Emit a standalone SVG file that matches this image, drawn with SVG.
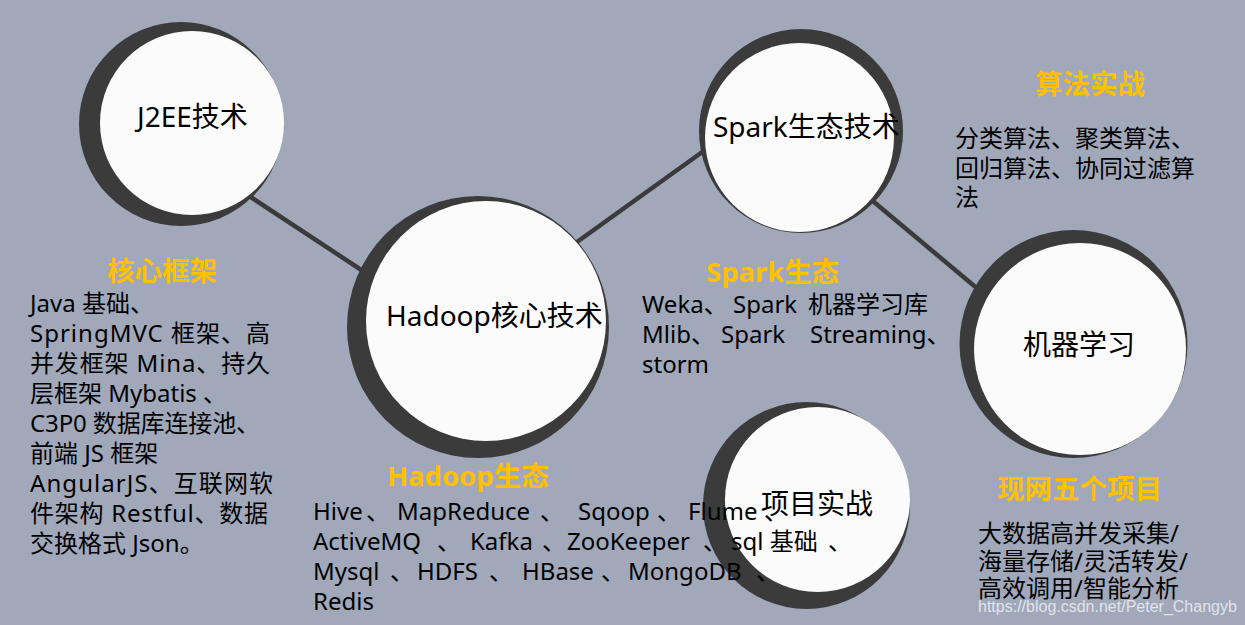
<svg xmlns="http://www.w3.org/2000/svg" width="1245" height="625" viewBox="0 0 1245 625">
<style>
.bg{fill:#a1a8ba}
.shadow{fill:#3b3b3b}
.face{fill:#fbfbfb}
.conn{stroke:#3b3b3b;stroke-width:4.5;fill:none}
text{font-family:"Noto Sans","Noto Sans CJK SC",sans-serif;fill:#000}
.title{font-size:28px}
.head{font-size:27.5px;font-weight:bold;fill:#ffc000}
.body{font-size:24px}
.wm{font-family:"Liberation Sans",Arial,sans-serif;font-size:16px;fill:#eef0f5;fill-opacity:0.85}
</style>
<rect class="bg" x="0" y="0" width="1245" height="625"/>
<g id="connectors">
<line class="conn" x1="240" y1="190" x2="372" y2="277"/>
<line class="conn" x1="570" y1="247" x2="712" y2="145"/>
<line class="conn" x1="868" y1="197" x2="985" y2="295"/>
</g>
<g id="j2ee">
<circle class="shadow" cx="181" cy="124" r="102"/>
<circle class="face" cx="192" cy="123" r="92"/>
<text class="title" x="137" y="127">J2EE技术</text>
</g>
<g id="hadoop">
<circle class="shadow" cx="478" cy="327" r="131"/>
<circle class="face" cx="486" cy="321" r="120"/>
<text class="title" x="386" y="326">Hadoop核心技术</text>
</g>
<g id="spark">
<circle class="shadow" cx="801" cy="131" r="102"/>
<circle class="face" cx="799.5" cy="137.5" r="94.5"/>
<text class="title" x="713" y="137">Spark生态技术</text>
</g>
<g id="ml">
<circle class="shadow" cx="1073.5" cy="344" r="114"/>
<circle class="face" cx="1080" cy="349" r="106"/>
<text class="title" x="1023" y="355">机器学习</text>
</g>
<g id="project">
<circle class="shadow" cx="806.5" cy="505.5" r="103.5"/>
<circle class="face" cx="817.5" cy="499.5" r="92.5"/>
<text class="title" x="761" y="514">项目实战</text>
</g>
<g id="core-framework">
<text class="head" x="107" y="281">核心框架</text>
<text class="body">
<tspan x="30" y="312">Java 基础、</tspan>
<tspan x="30" y="342" textLength="240" lengthAdjust="spacing">SpringMVC 框架、高</tspan>
<tspan x="30" y="372" textLength="240" lengthAdjust="spacing">并发框架 Mina、持久</tspan>
<tspan x="30" y="402">层框架 Mybatis 、</tspan>
<tspan x="30" y="432" textLength="230" lengthAdjust="spacing">C3P0 数据库连接池、</tspan>
<tspan x="30" y="462">前端 JS 框架</tspan>
<tspan x="30" y="492" textLength="243" lengthAdjust="spacing">AngularJS、互联网软</tspan>
<tspan x="30" y="522" textLength="238" lengthAdjust="spacing">件架构 Restful、数据</tspan>
<tspan x="30" y="552">交换格式 Json。</tspan>
</text>
</g>
<g id="hadoop-eco">
<text class="head" x="387" y="486">Hadoop生态</text>
<text class="body">
<tspan x="313" y="520">Hive</tspan><tspan x="366" y="520">、</tspan><tspan x="397" y="520">MapReduce</tspan><tspan x="540" y="520">、</tspan><tspan x="578" y="520">Sqoop</tspan><tspan x="657" y="520">、</tspan><tspan x="688" y="520">Flume</tspan><tspan x="764" y="520">、</tspan>
<tspan x="313" y="550">ActiveMQ</tspan><tspan x="437" y="550">、</tspan><tspan x="470" y="550">Kafka</tspan><tspan x="542" y="550">、</tspan><tspan x="567" y="550">ZooKeeper</tspan><tspan x="703" y="550">、</tspan><tspan x="731" y="550">sql 基础</tspan><tspan x="828" y="550">、</tspan>
<tspan x="313" y="580">Mysql</tspan><tspan x="390" y="580">、</tspan><tspan x="417" y="580">HDFS</tspan><tspan x="489" y="580">、</tspan><tspan x="522" y="580">HBase</tspan><tspan x="601" y="580">、</tspan><tspan x="628" y="580">MongoDB</tspan><tspan x="756" y="580">、</tspan>
<tspan x="313" y="610">Redis</tspan>
</text>
</g>
<g id="spark-eco">
<text class="head" x="706" y="282">Spark生态</text>
<text class="body">
<tspan x="642" y="313">Weka、</tspan><tspan x="733" y="313">Spark</tspan><tspan x="808" y="313">机器学习库</tspan>
<tspan x="642" y="343">Mlib、</tspan><tspan x="721" y="343">Spark</tspan><tspan x="810" y="343">Streaming、</tspan>
<tspan x="642" y="373">storm</tspan>
</text>
</g>
<g id="algorithm">
<text class="head" x="1035" y="94">算法实战</text>
<text class="body">
<tspan x="955" y="147">分类算法、聚类算法、</tspan>
<tspan x="955" y="177">回归算法、协同过滤算</tspan>
<tspan x="955" y="206">法</tspan>
</text>
</g>
<g id="projects">
<text class="head" x="997" y="499">现网五个项目</text>
<text class="body">
<tspan x="978" y="542">大数据高并发采集/</tspan>
<tspan x="978" y="570">海量存储/灵活转发/</tspan>
<tspan x="978" y="597">高效调用/智能分析</tspan>
</text>
</g>
<text class="wm" x="978" y="612">https://blog.csdn.net/Peter_Changyb</text>
</svg>
